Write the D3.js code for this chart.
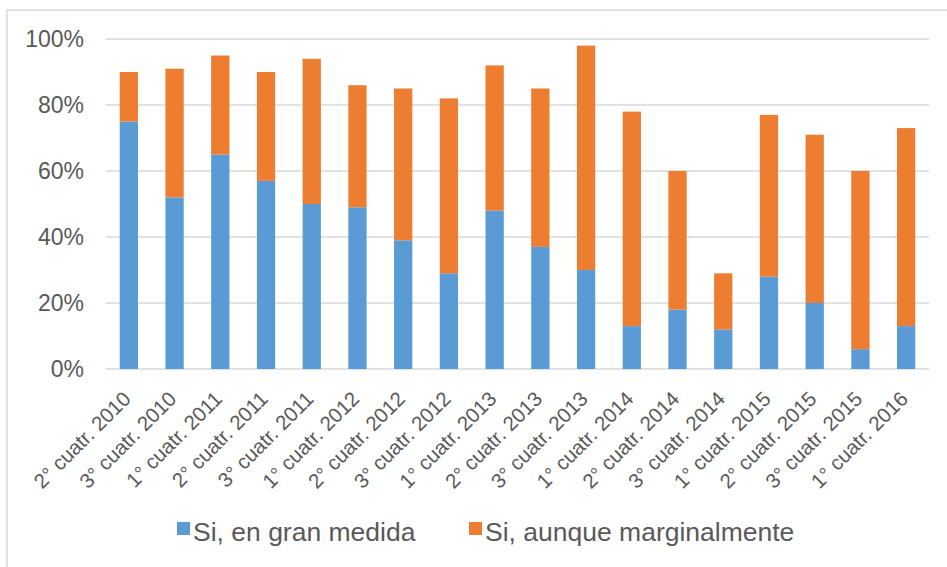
<!DOCTYPE html>
<html>
<head>
<meta charset="utf-8">
<script src="https://cdn.jsdelivr.net/npm/d3@7"></script>
<style>
  body { margin: 0; background: #fff; }
  text { font-family: Arial, "Liberation Sans", sans-serif; fill: #595959; }
</style>
</head>
<body>
<div id="chart"></div>
<script>
// data
const categories = [
  "2° cuatr. 2010", "3° cuatr. 2010", "1° cuatr. 2011", "2° cuatr. 2011",
  "3° cuatr. 2011", "1° cuatr. 2012", "2° cuatr. 2012", "3° cuatr. 2012",
  "1° cuatr. 2013", "2° cuatr. 2013", "3° cuatr. 2013", "1° cuatr. 2014",
  "2° cuatr. 2014", "3° cuatr. 2014", "1° cuatr. 2015", "2° cuatr. 2015",
  "3° cuatr. 2015", "1° cuatr. 2016"
];
const granMedida = [75, 52, 65, 57, 50, 49, 39, 29, 48, 37, 30, 13, 18, 12, 28, 20, 6, 13];
const marginal = [15, 39, 30, 33, 44, 37, 46, 53, 44, 48, 68, 65, 42, 17, 49, 51, 54, 60];
const seriesNames = ["Si, en gran medida", "Si, aunque marginalmente"];
const colors = ["#5B9BD5", "#ED7D31"];
const yTicks = [0, 20, 40, 60, 80, 100];

const width = 947, height = 567;
const margin = { top: 39, right: 18, bottom: 198, left: 106 };

const svg = d3.select("#chart").append("svg")
  .attr("width", width)
  .attr("height", height);

// chart border
svg.append("rect")
  .attr("x", 7).attr("y", 10)
  .attr("width", 960).attr("height", 580)
  .attr("fill", "none")
  .attr("stroke", "#d9d9d9")
  .attr("stroke-width", 1.5);

const x = d3.scaleBand()
  .domain(categories)
  .range([margin.left, width - margin.right])
  .paddingInner(0.6)
  .paddingOuter(0.3);

const y = d3.scaleLinear()
  .domain([0, 100])
  .range([height - margin.bottom, margin.top]);

// gridlines
svg.append("g")
  .selectAll("line")
  .data(yTicks)
  .enter().append("line")
  .attr("x1", margin.left).attr("x2", width - margin.right)
  .attr("y1", d => y(d)).attr("y2", d => y(d))
  .attr("stroke", "#d9d9d9")
  .attr("stroke-width", 1.5);

// y axis labels
const yAxis = svg.append("g")
  .attr("transform", `translate(${margin.left - 22},0)`)
  .call(d3.axisLeft(y).tickValues(yTicks).tickFormat(d => d + "%").tickSize(0).tickPadding(0));
yAxis.select(".domain").remove();
yAxis.selectAll("text")
  .attr("font-size", 23)
  .attr("font-family", "Arial, 'Liberation Sans', sans-serif")
  .attr("fill", "#595959");

// stacked data
const table = categories.map((c, i) => ({ cat: c, a: granMedida[i], b: marginal[i] }));
const stacked = d3.stack().keys(["a", "b"])(table);

svg.append("g")
  .selectAll("g")
  .data(stacked)
  .enter().append("g")
  .attr("fill", (d, i) => colors[i])
  .selectAll("rect")
  .data(d => d)
  .enter().append("rect")
  .attr("x", d => x(d.data.cat))
  .attr("y", d => y(d[1]))
  .attr("width", x.bandwidth())
  .attr("height", d => y(d[0]) - y(d[1]));

// x axis labels
const xAxis = svg.append("g")
  .attr("transform", `translate(0,${height - margin.bottom})`)
  .call(d3.axisBottom(x).tickSize(0).tickPadding(0));
xAxis.select(".domain").remove();
xAxis.selectAll("text")
  .attr("font-size", 20.5)
  .attr("font-family", "Arial, 'Liberation Sans', sans-serif")
  .attr("fill", "#595959")
  .attr("text-anchor", "end")
  .attr("dy", "0.35em")
  .attr("transform", "translate(-2,26) rotate(-45)");

// legend
const legendX = [177, 469];
const legend = svg.append("g")
  .selectAll("g")
  .data(seriesNames)
  .enter().append("g")
  .attr("transform", (d, i) => `translate(${legendX[i]},522)`);
legend.append("rect")
  .attr("width", 13).attr("height", 13)
  .attr("fill", (d, i) => colors[i]);
legend.append("text")
  .attr("x", 16).attr("y", 19)
  .attr("font-size", 26.5)
  .text(d => d);
</script>
</body>
</html>
